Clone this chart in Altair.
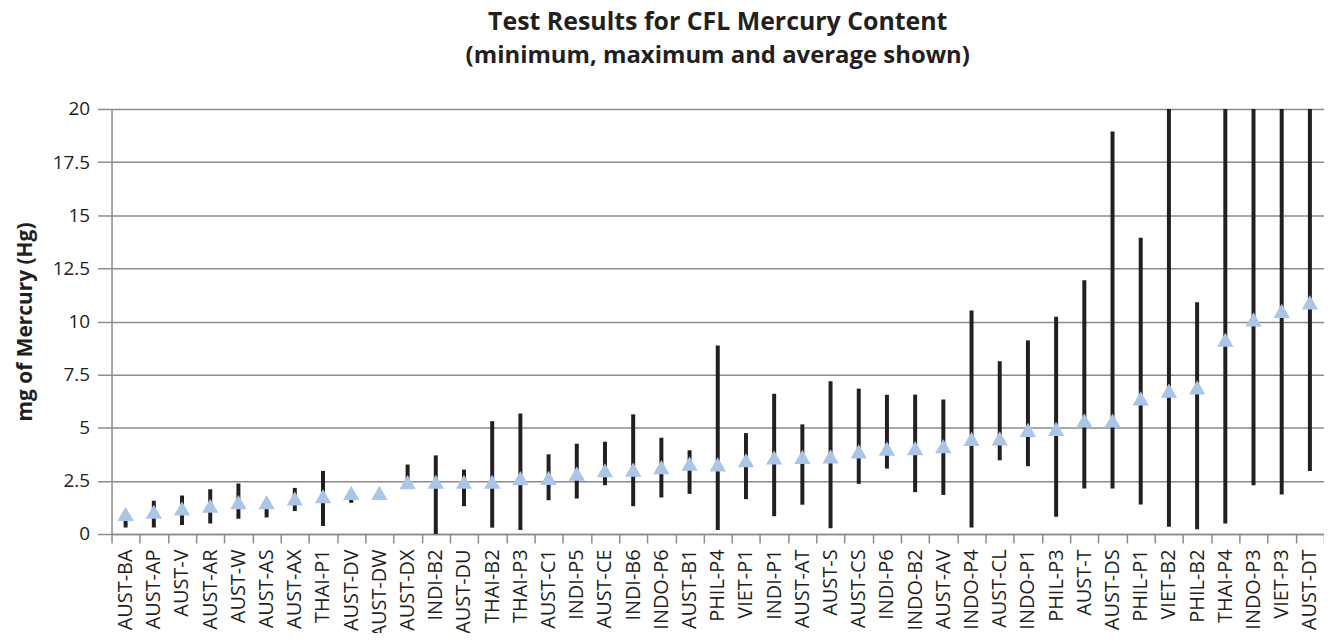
import altair as alt
import pandas as pd

categories = ["AUST-BA", "AUST-AP", "AUST-V", "AUST-AR", "AUST-W", "AUST-AS", "AUST-AX", "THAI-P1",
              "AUST-DV", "AUST-DW", "AUST-DX", "INDI-B2", "AUST-DU", "THAI-B2", "THAI-P3", "AUST-C1",
              "INDI-P5", "AUST-CE", "INDI-B6", "INDO-P6", "AUST-B1", "PHIL-P4", "VIET-P1", "INDI-P1",
              "AUST-AT", "AUST-S", "AUST-CS", "INDI-P6", "INDO-B2", "AUST-AV", "INDO-P4", "AUST-CL",
              "INDO-P1", "PHIL-P3", "AUST-T", "AUST-DS", "PHIL-P1", "VIET-B2", "PHIL-B2", "THAI-P4",
              "INDO-P3", "VIET-P3", "AUST-DT"]

min_vals = [0.31, 0.31, 0.42, 0.50, 0.72, 0.78, 1.08, 0.38, 1.47, 1.85, 2.30, 0.00, 1.31, 0.30, 0.19, 1.59,
            1.67, 2.30, 1.31, 1.72, 1.89, 0.19, 1.64, 0.84, 1.38, 0.27, 2.36, 3.08, 1.97, 1.84, 0.31, 3.47,
            3.19, 0.81, 2.14, 2.14, 1.39, 0.34, 0.22, 0.50, 2.30, 1.86, 2.97]

max_vals = [1.10, 1.56, 1.81, 2.11, 2.38, 1.60, 2.17, 2.97, 2.00, 2.00, 3.27, 3.70, 3.03, 5.31, 5.67, 3.75,
            4.25, 4.34, 5.63, 4.53, 3.94, 8.87, 4.75, 6.60, 5.16, 7.19, 6.84, 6.55, 6.56, 6.33, 10.52, 8.13,
            9.11, 10.22, 11.94, 18.94, 13.94, 25.0, 10.90, 25.0, 25.0, 25.0, 25.0]

avg_vals = [0.95, 1.05, 1.20, 1.33, 1.50, 1.50, 1.67, 1.78, 1.94, 1.94, 2.44, 2.46, 2.46, 2.46, 2.63, 2.64,
            2.84, 3.00, 3.03, 3.15, 3.31, 3.28, 3.47, 3.60, 3.63, 3.65, 3.89, 4.02, 4.04, 4.13, 4.48, 4.50,
            4.90, 4.95, 5.34, 5.34, 6.38, 6.75, 6.90, 9.14, 10.10, 10.50, 10.90]

y_ticks = [0, 2.5, 5, 7.5, 10, 12.5, 15, 17.5, 20]

df = pd.DataFrame({"sample": categories, "min": min_vals, "max": max_vals, "avg": avg_vals})

FONT = "Open Sans"
INK = "#231f20"
GRID = "#8c8c8c"

x_enc = alt.X(
    "sample:N", sort=None, title=None,
    scale=alt.Scale(paddingInner=0, paddingOuter=0),
    axis=alt.Axis(labelAngle=270, labelAlign="right", labelBaseline="middle",
                  labelFont=FONT, labelFontSize=20, labelColor=INK, labelPadding=6,
                  labelOverlap=False, tickBand="extent", tickSize=9, tickColor=GRID,
                  tickWidth=1.5, domainColor=GRID, domainWidth=1.5, grid=False),
)
y_scale = alt.Scale(domain=[0, 20], nice=False, zero=True)

rules = alt.Chart(df).mark_rule(color=INK, strokeWidth=4, clip=True).encode(
    x=x_enc,
    y=alt.Y("min:Q", scale=y_scale,
            axis=alt.Axis(values=y_ticks, format=".1~f", title="mg of Mercury (Hg)",
                          titleFont=FONT, titleFontSize=21, titleFontWeight="bold", titleColor=INK,
                          titleAngle=270, titleX=-86, titleY=213.5, titleAlign="center",
                          titleBaseline="middle",
                          labelFont=FONT, labelFontSize=19, labelColor=INK, labelPadding=8,
                          grid=True, gridColor=GRID, gridWidth=1.5, tickSize=14, tickColor=GRID,
                          tickWidth=1.5, domainColor=GRID, domainWidth=1.5)),
    y2="max:Q",
)

points = alt.Chart(df).mark_point(shape="triangle-up", filled=True, size=270, color="#a9c5e8",
                                  opacity=1, clip=True).encode(
    x=x_enc,
    y=alt.Y("avg:Q", scale=y_scale),
)

chart = alt.layer(rules, points).properties(
    width=1218, height=427,
    autosize=alt.AutoSizeParams(type="none"),
    padding={"left": 104, "top": 100, "right": 0, "bottom": 98},
    title=alt.Title(text="Test Results for CFL Mercury Content",
                    subtitle="(minimum, maximum and average shown)",
                    font=FONT, fontSize=25, fontWeight="bold", color=INK,
                    subtitleFont=FONT, subtitleFontSize=24, subtitleFontWeight="bold",
                    subtitleColor=INK, subtitlePadding=9, anchor="middle", frame="group",
                    offset=32),
).configure_view(stroke=None)

chart.save("out.html", embed_options={"renderer": "svg", "actions": False})
